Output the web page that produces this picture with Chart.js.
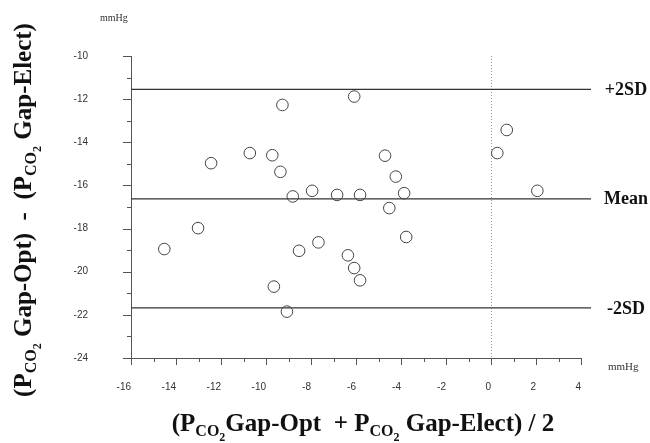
<!DOCTYPE html>
<html>
<head>
<meta charset="utf-8">
<script src="https://cdn.jsdelivr.net/npm/chart.js@4"></script>
<style>
  body { margin: 0; background: #fff; }
  canvas { display: block; }
</style>
</head>
<body>
<canvas id="chart" width="650" height="443"></canvas>
<script>
// mean of the two gaps (x) against their difference (y), one entry per patient
const meanGap = [-9.27, -6.08, -12.44, -10.72, -9.72, -9.36, -8.81, -7.95, -6.84, -5.82,
                 -4.71, -4.23, -3.86, -4.52, -3.77, -13.02, -14.52, -8.53, -7.67, -6.36,
                 -6.08, -5.82, -9.65, -9.07, 0.28, 0.70, 2.06];
const diffGap = [-12.27, -11.88, -14.97, -14.50, -14.60, -15.37, -16.51, -16.25, -16.44, -16.44,
                 -14.62, -15.59, -16.36, -17.05, -18.39, -17.98, -18.95, -19.03, -18.64, -19.24,
                 -19.83, -20.40, -20.69, -21.85, -14.50, -13.43, -16.25];

const xTickValues = [-16, -14, -12, -10, -8, -6, -4, -2, 0, 2, 4];
const yTickValues = [-10, -12, -14, -16, -18, -20, -22, -24];

// mean difference and the +/- 2SD limits
const limitValues = [-11.55, -16.62, -21.68];
const limitLabels = ["+2SD", "Mean", "-2SD"];

const xTitle = [["(P", 0], ["CO", 1], ["2", 2], ["Gap-Opt  + P", 0], ["CO", 1], ["2", 2], [" Gap-Elect) / 2", 0]];
const yTitle = [["(P", 0], ["CO", 1], ["2", 2], [" Gap-Opt)  -  (P", 0], ["CO", 1], ["2", 2], [" Gap-Elect)", 0]];

const serif = '"Liberation Serif", "Times New Roman", serif';

function drawSubText(ctx, parts, x, y) {
  const sizes = [25, 16, 12];
  const drop = [0, 5, 10];
  const fontFor = (lvl) => `bold ${sizes[lvl]}px ${serif}`;
  let width = 0;
  parts.forEach(([t, lvl]) => {
    ctx.font = fontFor(lvl);
    width += ctx.measureText(t).width;
  });
  let cx = x - width / 2;
  ctx.textAlign = "left";
  ctx.textBaseline = "alphabetic";
  parts.forEach(([t, lvl]) => {
    ctx.font = fontFor(lvl);
    ctx.fillText(t, cx, y + drop[lvl]);
    cx += ctx.measureText(t).width;
  });
}

const extras = {
  id: "extras",
  beforeDatasetsDraw(chart) {
    const { ctx, chartArea: area, scales: { x, y } } = chart;
    ctx.save();

    // dotted line at zero
    const x0 = Math.round(x.getPixelForValue(0)) + 0.5;
    ctx.strokeStyle = "#999";
    ctx.lineWidth = 1;
    ctx.setLineDash([1, 2]);
    ctx.beginPath();
    ctx.moveTo(x0, area.top);
    ctx.lineTo(x0, area.bottom);
    ctx.stroke();
    ctx.setLineDash([]);

    // mean and limits of agreement
    ctx.strokeStyle = "#333";
    ctx.lineWidth = 1.2;
    limitValues.forEach((v) => {
      const py = y.getPixelForValue(v);
      ctx.beginPath();
      ctx.moveTo(area.left, py);
      ctx.lineTo(area.right + 10, py);
      ctx.stroke();
    });

    // tick marks, long on even values, short on odd
    ctx.strokeStyle = "#555";
    ctx.lineWidth = 1;
    for (let v = x.min; v <= x.max; v++) {
      const px = Math.round(x.getPixelForValue(v)) + 0.5;
      const len = v % 2 === 0 ? 7 : 4;
      ctx.beginPath();
      ctx.moveTo(px, area.bottom);
      ctx.lineTo(px, area.bottom + len);
      ctx.stroke();
    }
    for (let v = y.min; v <= y.max; v++) {
      const py = Math.round(y.getPixelForValue(v)) + 0.5;
      const len = v % 2 === 0 ? 8 : 4;
      ctx.beginPath();
      ctx.moveTo(area.left, py);
      ctx.lineTo(area.left - len, py);
      ctx.stroke();
    }
    ctx.restore();
  },
  afterDraw(chart) {
    const { ctx, chartArea: area, scales: { y } } = chart;
    ctx.save();
    ctx.fillStyle = "#111";

    ctx.font = `bold 18px ${serif}`;
    ctx.textAlign = "center";
    ctx.textBaseline = "middle";
    limitValues.forEach((v, i) => {
      ctx.fillText(limitLabels[i], area.right + 45, y.getPixelForValue(v) + 1);
    });

    // units
    ctx.font = `10px ${serif}`;
    ctx.textAlign = "left";
    ctx.fillStyle = "#333";
    ctx.fillText("mmHg", 100, 18);
    ctx.font = `11px ${serif}`;
    ctx.fillText("mmHg", 608, 367);

    ctx.fillStyle = "#111";
    drawSubText(ctx, xTitle, 363, 431);

    ctx.translate(31, 210);
    ctx.rotate(-Math.PI / 2);
    drawSubText(ctx, yTitle, 0, 0);
    ctx.restore();
  }
};

new Chart(document.getElementById("chart"), {
  type: "scatter",
  data: {
    datasets: [{
      data: meanGap.map((m, i) => ({ x: m, y: diffGap[i] })),
      pointStyle: "circle",
      pointRadius: 5.8,
      pointBorderWidth: 1,
      pointBorderColor: "#444",
      pointBackgroundColor: "rgba(0,0,0,0)"
    }]
  },
  options: {
    responsive: false,
    animation: false,
    events: [],
    layout: { padding: { top: 56, right: 69, bottom: 0, left: 0 } },
    plugins: { legend: { display: false }, tooltip: { enabled: false } },
    scales: {
      x: {
        type: "linear",
        min: -16,
        max: 4,
        afterBuildTicks: (scale) => { scale.ticks = xTickValues.map((v) => ({ value: v })); },
        afterFit: (scale) => { scale.height = 85; },
        grid: { display: false },
        border: { display: true, color: "#555", width: 1 },
        ticks: {
          align: "end",
          padding: 15,
          color: "#333",
          font: { family: '"Liberation Sans", Arial, sans-serif', size: 10 }
        }
      },
      y: {
        type: "linear",
        min: -24,
        max: -10,
        afterBuildTicks: (scale) => { scale.ticks = yTickValues.map((v) => ({ value: v })); },
        afterFit: (scale) => { scale.width = 131; },
        grid: { display: false },
        border: { display: true, color: "#555", width: 1 },
        ticks: {
          padding: 35,
          color: "#333",
          font: { family: '"Liberation Sans", Arial, sans-serif', size: 10 }
        }
      }
    }
  },
  plugins: [extras]
});
</script>
</body>
</html>
